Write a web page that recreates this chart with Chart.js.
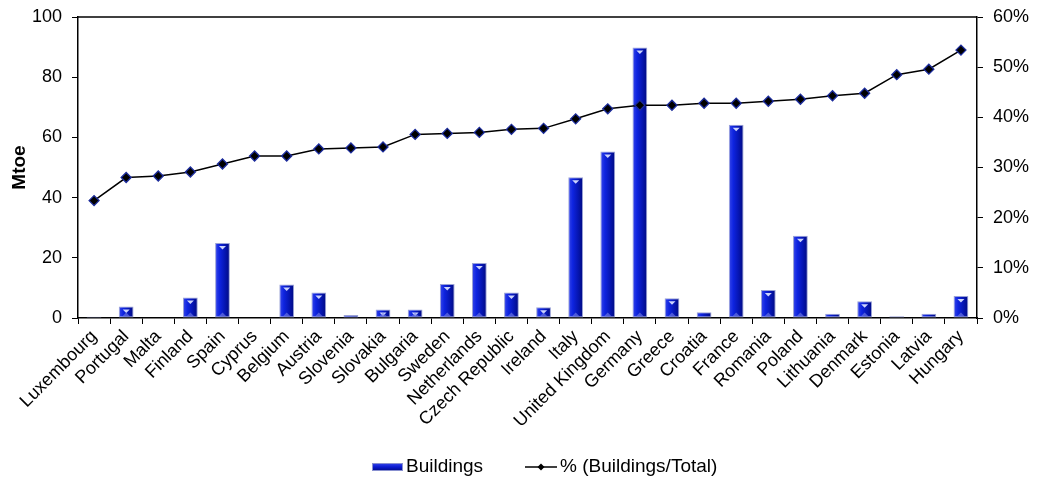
<!DOCTYPE html>
<html>
<head>
<meta charset="utf-8">
<script src="https://cdn.jsdelivr.net/npm/chart.js@4/dist/chart.umd.min.js"></script>
<style>
  html, body { margin: 0; padding: 0; background: #fff; }
  #wrap { width: 1037px; height: 485px; }
</style>
</head>
<body>
<div id="wrap"><canvas id="buildingsChart" width="1037" height="485"></canvas></div>
<script>
// Energy consumption of buildings per country (Mtoe) and share of total
const countries = ['Luxembourg', 'Portugal', 'Malta', 'Finland', 'Spain', 'Cyprus', 'Belgium', 'Austria',
    'Slovenia', 'Slovakia', 'Bulgaria', 'Sweden', 'Netherlands', 'Czech Republic', 'Ireland', 'Italy',
    'United Kingdom', 'Germany', 'Greece', 'Croatia', 'France', 'Romania', 'Poland', 'Lithuania',
    'Denmark', 'Estonia', 'Latvia', 'Hungary'];
const buildingsMtoe = [0.4, 3.8, 0, 6.8, 24.9, 0, 11.1, 8.5, 1.0, 2.8, 2.8, 11.3, 18.3, 8.5, 3.6, 46.8,
    55.3, 89.9, 6.6, 1.9, 64.2, 9.3, 27.3, 1.4, 5.6, 0.6, 1.4, 7.3];
const buildingsShare = [23.4, 28.0, 28.3, 29.1, 30.7, 32.3, 32.3, 33.7, 33.9, 34.1, 36.6, 36.8, 37.0, 37.6,
    37.8, 39.7, 41.7, 42.4, 42.4, 42.8, 42.8, 43.2, 43.6, 44.3, 44.8, 48.5, 49.6, 53.4];
const mtoeTicks = [0, 20, 40, 60, 80, 100];
const shareTicks = [0, 10, 20, 30, 40, 50, 60];

const FONT = "'Liberation Sans', Arial, sans-serif";
const BAR_PCT = 0.46;

// horizontal shading for each bar, like a rounded tube
function barFill(ctx) {
    const chart = ctx.chart;
    const xs = chart.scales.x;
    if (!xs || ctx.type !== 'data') return '#0a18c0';
    const cx = xs.getPixelForValue(ctx.dataIndex);
    const half = (xs.width / countries.length) * BAR_PCT / 2;
    if (!isFinite(cx) || !isFinite(half) || half <= 0) return '#0a18c0';
    const g = chart.ctx.createLinearGradient(cx - half, 0, cx + half, 0);
    g.addColorStop(0, '#3848ea');
    g.addColorStop(0.3, '#0e24e0');
    g.addColorStop(0.65, '#0616b4');
    g.addColorStop(1, '#000a80');
    return g;
}

// frame line along the top of the plot + small highlights on bars
const frameAndGlints = {
    id: 'frameAndGlints',
    afterDatasetsDraw(chart) {
        const c = chart.ctx, a = chart.chartArea;
        c.save();
        const meta = chart.getDatasetMeta(1);
        meta.data.forEach(bar => {
            const h = bar.base - bar.y;
            if (h < 7) return;
            c.fillStyle = 'rgba(215,222,255,0.95)';
            c.beginPath();
            c.moveTo(bar.x - 3.5, bar.y + 3);
            c.lineTo(bar.x + 3.5, bar.y + 3);
            c.lineTo(bar.x, bar.y + 6.5);
            c.closePath();
            c.fill();
            c.fillStyle = 'rgba(120,130,230,0.6)';
            c.beginPath();
            c.moveTo(bar.x - 3.5, bar.base - 1.5);
            c.lineTo(bar.x + 3.5, bar.base - 1.5);
            c.lineTo(bar.x, bar.base - 5);
            c.closePath();
            c.fill();
        });
        c.strokeStyle = '#000';
        c.lineWidth = 1.5;
        c.beginPath();
        c.moveTo(a.left, a.top);
        c.lineTo(a.right, a.top);
        c.stroke();
        c.restore();
    }
};

// legend drawn below the axis labels
const bottomLegend = {
    id: 'bottomLegend',
    afterDraw(chart) {
        const c = chart.ctx;
        const y = 467;
        c.save();
        c.font = '19px ' + FONT;
        c.textBaseline = 'middle';
        // bar swatch
        let x = 372;
        const g = c.createLinearGradient(0, y - 4, 0, y + 4);
        g.addColorStop(0, '#3848ea');
        g.addColorStop(0.5, '#0a1ad0');
        g.addColorStop(1, '#000a80');
        c.fillStyle = g;
        c.fillRect(x, y - 4, 31, 8);
        c.strokeStyle = '#8890d0';
        c.lineWidth = 1;
        c.strokeRect(x + 0.5, y - 3.5, 30, 7);
        c.fillStyle = '#000';
        c.fillText(chart.data.datasets[1].label, x + 34, y);
        // line swatch
        x = 525;
        c.strokeStyle = '#000';
        c.lineWidth = 1.5;
        c.beginPath();
        c.moveTo(x, y);
        c.lineTo(x + 32, y);
        c.stroke();
        c.beginPath();
        c.moveTo(x + 16, y - 3.5);
        c.lineTo(x + 19.5, y);
        c.lineTo(x + 16, y + 3.5);
        c.lineTo(x + 12.5, y);
        c.closePath();
        c.fill();
        c.fillText(chart.data.datasets[0].label, x + 35, y);
        c.restore();
    }
};

// keep the value axes from pushing the plot down for their end labels
function fixVertical(width) {
    return scale => {
        scale.width = width;
        scale.paddingTop = 0;
        scale.paddingBottom = 0;
    };
}

new Chart(document.getElementById('buildingsChart'), {
    type: 'bar',
    data: {
        labels: countries,
        datasets: [
            {
                type: 'line',
                label: '% (Buildings/Total)',
                data: buildingsShare,
                yAxisID: 'y1',
                borderColor: '#000',
                borderWidth: 1.5,
                pointStyle: 'rectRot',
                pointRadius: 5,
                pointBackgroundColor: '#000',
                pointBorderColor: '#1c2c9c',
                pointBorderWidth: 1.3,
                tension: 0,
                order: 0
            },
            {
                label: 'Buildings',
                data: buildingsMtoe,
                yAxisID: 'y',
                backgroundColor: barFill,
                borderColor: '#9aa2d6',
                borderWidth: 1,
                borderSkipped: false,
                barPercentage: BAR_PCT,
                categoryPercentage: 1,
                order: 1
            }
        ]
    },
    options: {
        responsive: false,
        animation: false,
        layout: { padding: { top: 17, left: 0, right: 0, bottom: 0 } },
        plugins: {
            legend: { display: false },
            tooltip: { enabled: false }
        },
        scales: {
            x: {
                grid: { offset: true, drawOnChartArea: false, tickLength: 6, color: '#000', lineWidth: 1 },
                border: { color: '#000', width: 1.5 },
                ticks: {
                    color: '#000',
                    font: { family: FONT, size: 18 },
                    minRotation: 45,
                    maxRotation: 45,
                    autoSkip: false,
                    padding: 2
                },
                afterFit(scale) { scale.height = 167; }
            },
            y: {
                position: 'left',
                min: 0,
                max: 100,
                afterBuildTicks(scale) { scale.ticks = mtoeTicks.map(v => ({ value: v })); },
                grid: { drawOnChartArea: false, tickLength: 6, color: '#000' },
                border: { color: '#000', width: 1.5 },
                ticks: { color: '#000', font: { family: FONT, size: 18 }, padding: 10 },
                title: {
                    display: true,
                    text: 'Mtoe',
                    color: '#000',
                    font: { family: FONT, size: 19, weight: 'bold' },
                    padding: { top: 8, bottom: 0 }
                },
                afterFit: fixVertical(78)
            },
            y1: {
                position: 'right',
                min: 0,
                max: 60,
                afterBuildTicks(scale) { scale.ticks = shareTicks.map(v => ({ value: v })); },
                grid: { drawOnChartArea: false, tickLength: 6, color: '#000' },
                border: { color: '#000', width: 1.5 },
                ticks: {
                    color: '#000',
                    font: { family: FONT, size: 18 },
                    padding: 10,
                    callback: v => v + '%'
                },
                afterFit: fixVertical(60)
            }
        }
    },
    plugins: [frameAndGlints, bottomLegend]
});
</script>
</body>
</html>
